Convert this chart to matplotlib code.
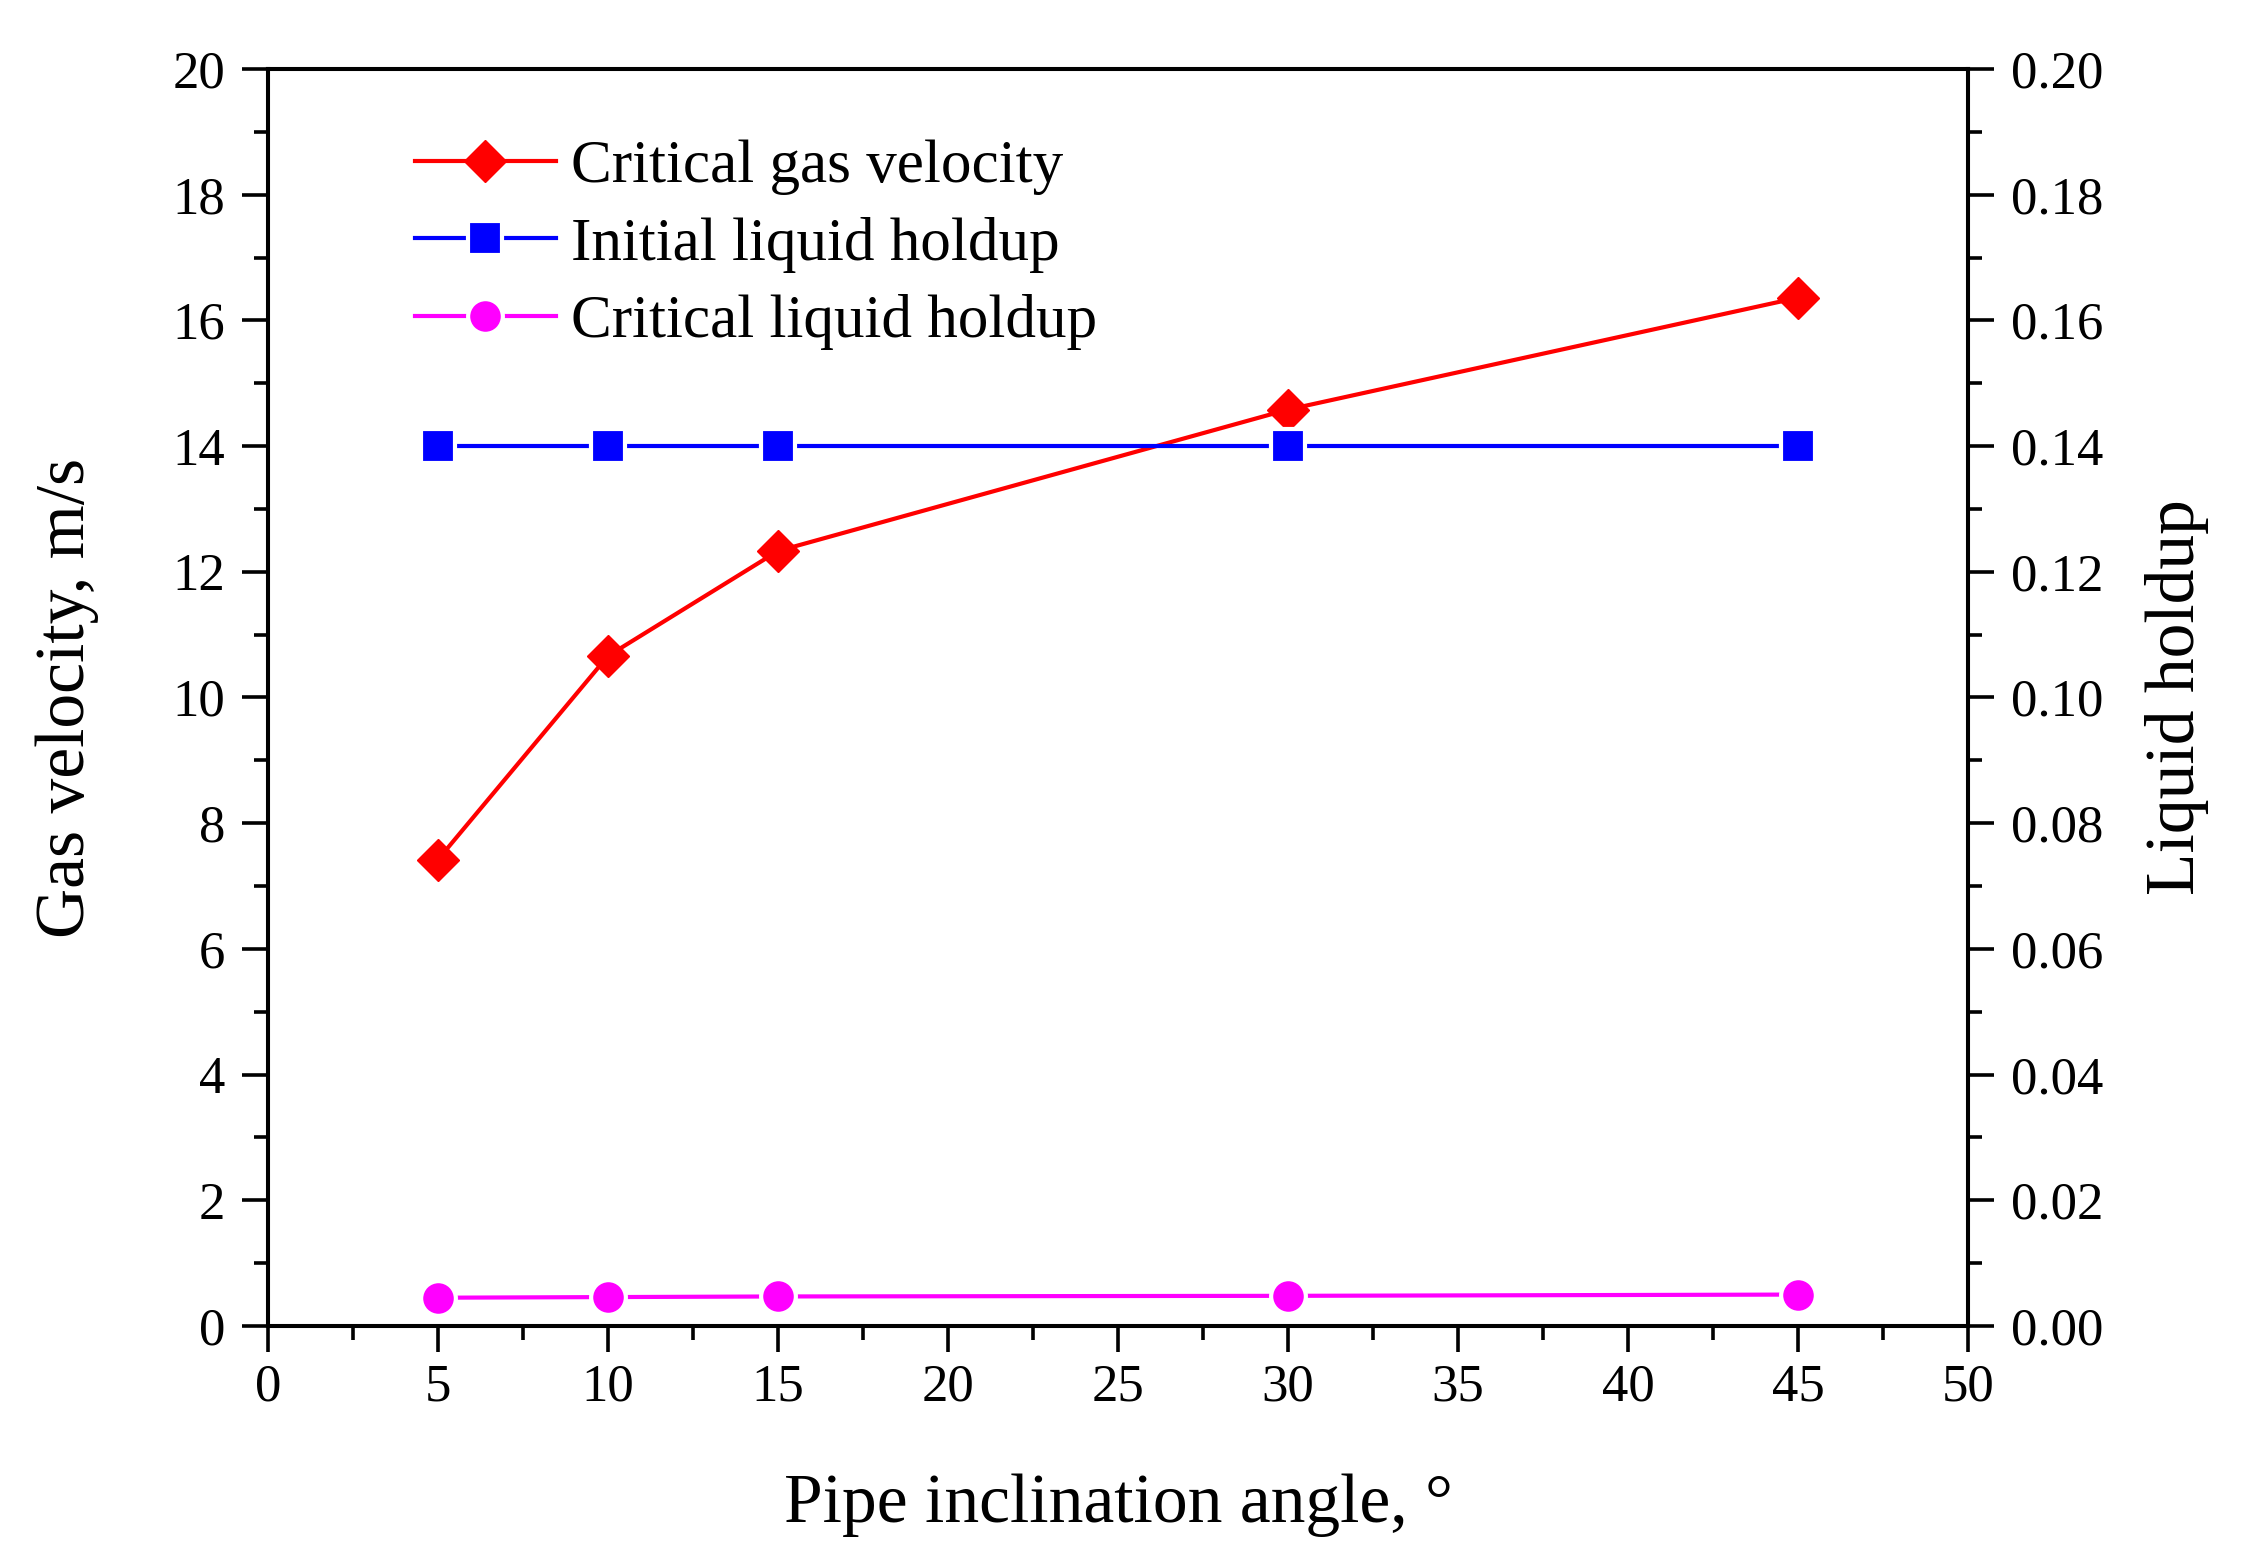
import numpy as np
import matplotlib
matplotlib.use("Agg")
import matplotlib.pyplot as plt
from matplotlib.ticker import MultipleLocator, AutoMinorLocator, FormatStrFormatter

# data
angles = [5, 10, 15, 30, 45]
crit_gas_velocity = [7.42, 10.66, 12.33, 14.58, 16.36]
initial_holdup = [0.14, 0.14, 0.14, 0.14, 0.14]
crit_holdup = [0.0045, 0.0046, 0.0047, 0.0048, 0.0050]

plt.rcParams['font.family'] = ['Liberation Serif', 'DejaVu Serif']

fig = plt.figure(figsize=(22.46, 15.67), dpi=100)
ax = fig.add_axes([0.1193, 0.1538, 0.7569, 0.8022])
ax2 = ax.twinx()

l1, = ax.plot(angles, crit_gas_velocity, color='red', lw=3, marker='D', ms=21,
              mec='red', label='Critical gas velocity', zorder=3)
l2, = ax2.plot(angles, initial_holdup, color='blue', lw=3, marker='s', ms=24,
               mec='white', mew=3, label='Initial liquid holdup')
l3, = ax2.plot(angles, crit_holdup, color='magenta', lw=3, marker='o', ms=25,
               mec='white', mew=3, label='Critical liquid holdup')

ax.set_xlim(0, 50)
ax.set_ylim(0, 20)
ax2.set_ylim(0, 0.20)

ax.xaxis.set_major_locator(MultipleLocator(5))
ax.xaxis.set_minor_locator(AutoMinorLocator(2))
ax.yaxis.set_major_locator(MultipleLocator(2))
ax.yaxis.set_minor_locator(AutoMinorLocator(2))
ax2.yaxis.set_major_locator(MultipleLocator(0.02))
ax2.yaxis.set_minor_locator(AutoMinorLocator(2))
ax2.yaxis.set_major_formatter(FormatStrFormatter('%.2f'))

for a in (ax, ax2):
    for s in a.spines.values():
        s.set_linewidth(2.9)
    a.tick_params(which='major', direction='out', length=19, width=2.6,
                  labelsize=38, pad=12)
    a.tick_params(which='minor', direction='out', length=10, width=2.6)

ax.tick_params(axis='x', which='major', pad=8)
ax.tick_params(axis='y', which='both', right=False)
ax.tick_params(axis='x', which='both', top=False)
ax2.tick_params(axis='y', which='both', left=False, right=True)

ax.set_xlabel('Pipe inclination angle, °', fontsize=50, labelpad=45)
ax.set_ylabel('Gas velocity, m/s', fontsize=50, labelpad=53)
ax2.set_ylabel('Liquid holdup', fontsize=50, labelpad=30)

ax.legend(handles=[l1, l2, l3], loc='upper left', bbox_to_anchor=(0.0865, 0.944),
          frameon=False, fontsize=44, handlelength=2.3, handletextpad=0.26,
          labelspacing=0.35, borderpad=0, borderaxespad=0)

fig.savefig('out.png', dpi=100)
